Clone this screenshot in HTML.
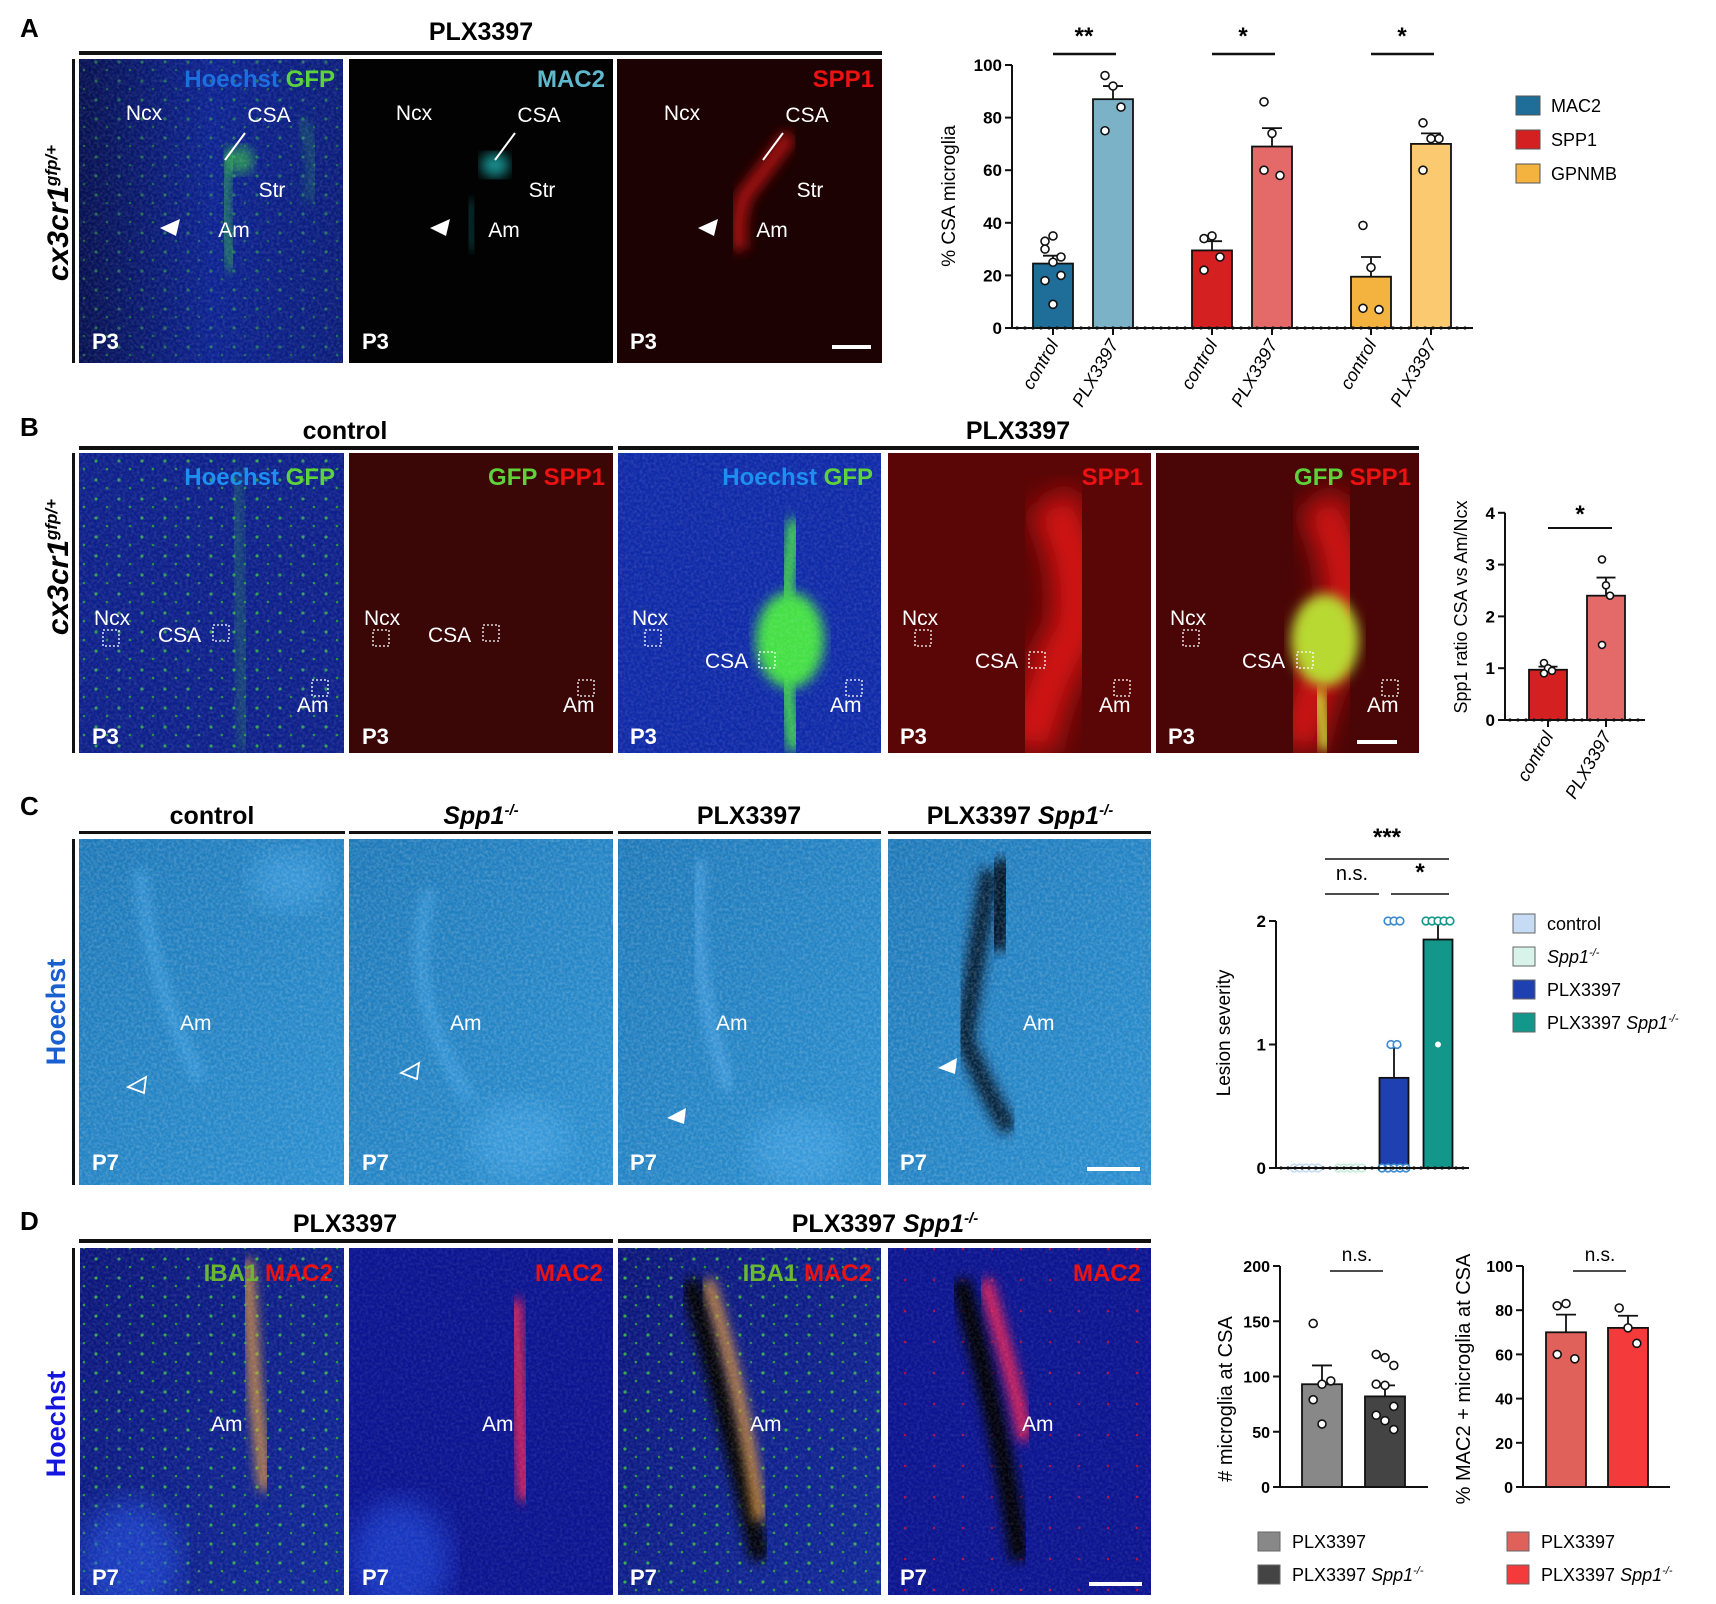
<!DOCTYPE html>
<html><head><meta charset="utf-8"><style>
body{margin:0;background:#fff}
svg{display:block;font-family:"Liberation Sans",Arial,sans-serif}
</style></head><body>
<svg id="fig" width="1716" height="1604" viewBox="0 0 1716 1604" xmlns="http://www.w3.org/2000/svg">
<defs>
<filter id="nz" x="0" y="0" width="100%" height="100%"><feTurbulence type="fractalNoise" baseFrequency="0.35" numOctaves="2" seed="3"/><feColorMatrix type="matrix" values="0 0 0 0 1  0 0 0 0 1  0 0 0 0 1  0 0 0 1.6 -0.55"/></filter>
<filter id="bl"><feGaussianBlur stdDeviation="6"/></filter>
<filter id="bl2"><feGaussianBlur stdDeviation="14"/></filter>
<pattern id="gdots" width="23" height="19" patternUnits="userSpaceOnUse"><circle cx="4" cy="5" r="1.6" fill="#3fd23f"/><circle cx="15" cy="13" r="1.3" fill="#2fb82f"/></pattern>
<pattern id="rdots" width="29" height="31" patternUnits="userSpaceOnUse"><circle cx="6" cy="9" r="1.3" fill="#e01030"/></pattern>
<linearGradient id="gA1" x1="0" x2="1"><stop offset="0" stop-color="#061050"/><stop offset="0.5" stop-color="#0c2290"/><stop offset="1" stop-color="#0a1c7a"/></linearGradient>
<linearGradient id="gC" x1="0" x2="1" y1="0" y2="1"><stop offset="0" stop-color="#1d78b8"/><stop offset="1" stop-color="#2a8fd0"/></linearGradient>
<linearGradient id="gD" x1="0" x2="1" y1="0" y2="1"><stop offset="0" stop-color="#0a1478"/><stop offset="1" stop-color="#10289a"/></linearGradient>
<clipPath id="cA1"><rect x="79" y="59" width="264" height="304"/></clipPath>
<clipPath id="cA2"><rect x="349" y="59" width="264" height="304"/></clipPath>
<clipPath id="cA3"><rect x="617" y="59" width="265" height="304"/></clipPath>
<clipPath id="cB1"><rect x="79" y="453" width="265" height="300"/></clipPath>
<clipPath id="cB3"><rect x="618" y="453" width="263" height="300"/></clipPath>
<clipPath id="cB4"><rect x="888" y="453" width="263" height="300"/></clipPath>
<clipPath id="cB5"><rect x="1156" y="453" width="263" height="300"/></clipPath>
<clipPath id="cC"><rect x="79" y="839" width="1072" height="346"/></clipPath>
<clipPath id="cD1"><rect x="80" y="1248" width="264" height="347"/></clipPath>
<clipPath id="cD2"><rect x="349" y="1248" width="264" height="347"/></clipPath>
<clipPath id="cD3"><rect x="618" y="1248" width="263" height="347"/></clipPath>
<clipPath id="cD4"><rect x="888" y="1248" width="263" height="347"/></clipPath>
</defs>

<text x="20" y="37" font-size="26" font-weight="bold">A</text>
<text x="20" y="436" font-size="26" font-weight="bold">B</text>
<text x="20" y="815" font-size="26" font-weight="bold">C</text>
<text x="20" y="1230" font-size="26" font-weight="bold">D</text>

<g font-size="25" font-weight="bold" text-anchor="middle">
<text x="481" y="40">PLX3397</text>
<rect x="79" y="51" width="803" height="4" fill="#111"/>
<text x="345" y="439">control</text><text x="1018" y="439">PLX3397</text>
<rect x="79" y="446" width="534" height="4" fill="#111"/><rect x="618" y="446" width="801" height="4" fill="#111"/>
<text x="212" y="824">control</text><text x="481" y="824"><tspan font-style="italic">Spp1</tspan><tspan font-size="15" dy="-9" font-style="italic">-/-</tspan></text>
<text x="749" y="824">PLX3397</text><text x="1020" y="824">PLX3397 <tspan font-style="italic">Spp1</tspan><tspan font-size="15" dy="-9" font-style="italic">-/-</tspan></text>
<rect x="79" y="831" width="266" height="3" fill="#111"/><rect x="349" y="831" width="264" height="3" fill="#111"/><rect x="618" y="831" width="263" height="3" fill="#111"/><rect x="888" y="831" width="263" height="3" fill="#111"/>
<text x="345" y="1232">PLX3397</text><text x="885" y="1232">PLX3397 <tspan font-style="italic">Spp1</tspan><tspan font-size="15" dy="-9" font-style="italic">-/-</tspan></text>
<rect x="79" y="1239" width="534" height="4" fill="#111"/><rect x="618" y="1239" width="533" height="4" fill="#111"/>
</g>
<g fill="#111">
<rect x="72" y="59" width="3" height="304"/><rect x="72" y="453" width="3" height="300"/><rect x="72" y="839" width="3" height="346"/><rect x="72" y="1248" width="3" height="347"/>
</g>
<text transform="translate(68,213) rotate(-90)" font-size="30" font-weight="bold" font-style="italic" text-anchor="middle">cx3cr1<tspan font-size="17" dy="-11">gfp/+</tspan></text>
<text transform="translate(68,567) rotate(-90)" font-size="30" font-weight="bold" font-style="italic" text-anchor="middle">cx3cr1<tspan font-size="17" dy="-11">gfp/+</tspan></text>
<text transform="translate(65,1012) rotate(-90)" font-size="27" font-weight="bold" fill="#1a5fd0" text-anchor="middle">Hoechst</text>
<text transform="translate(65,1424) rotate(-90)" font-size="27" font-weight="bold" fill="#1515e0" text-anchor="middle">Hoechst</text>

<!-- Panel A images -->
<g clip-path="url(#cA1)">
<rect x="79" y="59" width="264" height="304" fill="url(#gA1)"/>
<rect x="79" y="59" width="264" height="304" fill="url(#gdots)" opacity="0.45"/>
<path d="M232 150 Q222 190 226 230 Q230 250 232 270" stroke="#3ad23a" stroke-width="6" fill="none" filter="url(#bl)"/>
<ellipse cx="240" cy="160" rx="14" ry="14" fill="#3ad23a" opacity="0.6" filter="url(#bl)"/>
<path d="M300 120 Q320 150 310 200" stroke="#3ad23a" stroke-width="4" fill="none" opacity="0.7" filter="url(#bl)"/>
<rect x="79" y="59" width="264" height="304" filter="url(#nz)" opacity="0.15"/>
</g>
<g clip-path="url(#cA2)">
<rect x="349" y="59" width="264" height="304" fill="#020202"/>
<ellipse cx="495" cy="165" rx="14" ry="12" fill="#20c8c8" opacity="0.7" filter="url(#bl)"/>
<path d="M471 200 Q466 230 474 250" stroke="#20c8c8" stroke-width="4" fill="none" opacity="0.7" filter="url(#bl)"/>
</g>
<g clip-path="url(#cA3)">
<rect x="617" y="59" width="265" height="304" fill="#1c0202"/>
<path d="M790 135 Q765 170 745 195 Q735 220 740 250" stroke="#d01515" stroke-width="16" fill="none" opacity="0.75" filter="url(#bl)"/>
</g>
<g fill="#fff" font-size="21" text-anchor="middle">
<text x="144" y="120">Ncx</text><text x="269" y="122">CSA</text><text x="272" y="197">Str</text><text x="234" y="237">Am</text>
<text x="414" y="120">Ncx</text><text x="539" y="122">CSA</text><text x="542" y="197">Str</text><text x="504" y="237">Am</text>
<text x="682" y="120">Ncx</text><text x="807" y="122">CSA</text><text x="810" y="197">Str</text><text x="772" y="237">Am</text>
<path d="M245 133 L225 160 M515 133 L495 160 M783 133 L763 160" stroke="#fff" stroke-width="2"/>
<path d="M160 228 L180 219 L176 236Z M430 228 L450 219 L446 236Z M698 228 L718 219 L714 236Z"/>
<g font-weight="bold" font-size="22" text-anchor="start"><text x="92" y="349">P3</text><text x="362" y="349">P3</text><text x="630" y="349">P3</text></g>
<rect x="832" y="345" width="39" height="4"/>
</g>
<g font-size="24" font-weight="bold" text-anchor="end">
<text x="335" y="87"><tspan fill="#1d6fe0">Hoechst</tspan> <tspan fill="#5ed23a">GFP</tspan></text>
<text x="605" y="87" fill="#5fb8cc">MAC2</text>
<text x="874" y="87" fill="#ee1111">SPP1</text>
</g>

<!-- Panel B images -->
<g clip-path="url(#cB1)">
<rect x="79" y="453" width="265" height="300" fill="#0d1f8a"/><rect x="79" y="453" width="265" height="300" fill="url(#gdots)" opacity="0.7"/>
<path d="M235 470 L245 750" stroke="#3ad23a" stroke-width="6" opacity="0.5" filter="url(#bl)"/>
<rect x="79" y="453" width="265" height="300" filter="url(#nz)" opacity="0.15"/></g>
<g><rect x="349" y="453" width="264" height="300" fill="#3a0606"/></g>
<g clip-path="url(#cB3)">
<rect x="618" y="453" width="263" height="300" fill="#0f2aa8"/>
<ellipse cx="790" cy="640" rx="34" ry="48" fill="#44e044" filter="url(#bl)"/>
<path d="M795 520 L785 600 M785 680 L795 750" stroke="#44e044" stroke-width="14" filter="url(#bl)"/>
<rect x="618" y="453" width="263" height="300" filter="url(#nz)" opacity="0.15"/></g>
<g clip-path="url(#cB4)">
<rect x="888" y="453" width="263" height="300" fill="#5a0606"/>
<path d="M1050 500 Q1085 560 1075 630 Q1040 690 1030 750" stroke="#e81818" stroke-width="50" fill="none" filter="url(#bl2)" opacity="0.85"/></g>
<g clip-path="url(#cB5)">
<rect x="1156" y="453" width="263" height="300" fill="#4a0606"/>
<path d="M1318 500 Q1353 560 1343 630 Q1308 690 1298 750" stroke="#e81818" stroke-width="46" fill="none" filter="url(#bl2)" opacity="0.85"/>
<ellipse cx="1325" cy="640" rx="34" ry="46" fill="#b8d830" filter="url(#bl)"/>
<path d="M1318 690 L1326 750" stroke="#c8d830" stroke-width="14" filter="url(#bl)"/></g>
<g font-size="24" font-weight="bold" text-anchor="end">
<text x="335" y="485"><tspan fill="#1d8ff0">Hoechst</tspan> <tspan fill="#5ed23a">GFP</tspan></text>
<text x="605" y="485"><tspan fill="#5ed23a">GFP</tspan> <tspan fill="#ee1111">SPP1</tspan></text>
<text x="873" y="485"><tspan fill="#1d8ff0">Hoechst</tspan> <tspan fill="#5ed23a">GFP</tspan></text>
<text x="1143" y="485" fill="#ee1111">SPP1</text>
<text x="1411" y="485"><tspan fill="#5ed23a">GFP</tspan> <tspan fill="#ee1111">SPP1</tspan></text>
</g>
<g fill="#fff" font-size="21">
<text x="94" y="625">Ncx</text><text x="158" y="642">CSA</text><text x="297" y="712">Am</text>
<text x="364" y="625">Ncx</text><text x="428" y="642">CSA</text><text x="563" y="712">Am</text>
<text x="632" y="625">Ncx</text><text x="705" y="668">CSA</text><text x="830" y="712">Am</text>
<text x="902" y="625">Ncx</text><text x="975" y="668">CSA</text><text x="1099" y="712">Am</text>
<text x="1170" y="625">Ncx</text><text x="1242" y="668">CSA</text><text x="1367" y="712">Am</text>
<g font-weight="bold" font-size="22"><text x="92" y="744">P3</text><text x="362" y="744">P3</text><text x="630" y="744">P3</text><text x="900" y="744">P3</text><text x="1168" y="744">P3</text></g>
<g fill="none" stroke="#fff" stroke-width="1.3" stroke-dasharray="2,2">
<rect x="103" y="630" width="16" height="16"/><rect x="213" y="625" width="16" height="16"/><rect x="312" y="680" width="16" height="16"/>
<rect x="373" y="630" width="16" height="16"/><rect x="483" y="625" width="16" height="16"/><rect x="578" y="680" width="16" height="16"/>
<rect x="645" y="630" width="16" height="16"/><rect x="759" y="652" width="16" height="16"/><rect x="846" y="680" width="16" height="16"/>
<rect x="915" y="630" width="16" height="16"/><rect x="1029" y="652" width="16" height="16"/><rect x="1114" y="680" width="16" height="16"/>
<rect x="1183" y="630" width="16" height="16"/><rect x="1297" y="652" width="16" height="16"/><rect x="1382" y="680" width="16" height="16"/></g>
<rect x="1357" y="740" width="40" height="4"/>
</g>

<!-- Panel C images -->
<g clip-path="url(#cC)">
<rect x="79" y="839" width="265" height="346" fill="url(#gC)"/><rect x="349" y="839" width="264" height="346" fill="url(#gC)"/>
<rect x="618" y="839" width="263" height="346" fill="url(#gC)"/><rect x="888" y="839" width="263" height="346" fill="url(#gC)"/>
<path d="M140 870 Q150 980 200 1080 M430 890 Q400 990 470 1100" stroke="#4aa8e8" stroke-width="10" fill="none" filter="url(#bl)" opacity="0.7"/>
<ellipse cx="290" cy="880" rx="40" ry="30" fill="#4aa8e8" opacity="0.5" filter="url(#bl2)"/>
<ellipse cx="520" cy="1140" rx="50" ry="40" fill="#4aa8e8" opacity="0.5" filter="url(#bl2)"/>
<ellipse cx="800" cy="1150" rx="50" ry="40" fill="#4aa8e8" opacity="0.5" filter="url(#bl2)"/>
<path d="M990 870 Q975 960 965 1040 Q990 1100 1010 1130" stroke="#05162e" stroke-width="18" fill="none" filter="url(#bl)"/>
<path d="M1005 860 L995 950" stroke="#05162e" stroke-width="28" filter="url(#bl)"/>
<path d="M700 860 Q690 980 730 1090" stroke="#5cb0f0" stroke-width="8" fill="none" filter="url(#bl)" opacity="0.8"/>
<rect x="79" y="839" width="1072" height="346" filter="url(#nz)" opacity="0.25"/>
</g>
<g fill="#fff" font-size="21">
<text x="180" y="1030">Am</text><text x="450" y="1030">Am</text><text x="716" y="1030">Am</text><text x="1023" y="1030">Am</text>
<path d="M128 1087 L146 1077 L144 1093Z M401 1073 L419 1063 L417 1079Z" fill="none" stroke="#fff" stroke-width="1.8"/>
<path d="M667 1118 L686 1108 L684 1124Z M938 1068 L957 1058 L955 1074Z"/>
<g font-weight="bold" font-size="22"><text x="92" y="1170">P7</text><text x="362" y="1170">P7</text><text x="630" y="1170">P7</text><text x="900" y="1170">P7</text></g>
<rect x="1087" y="1167" width="53" height="4"/>
</g>

<!-- Panel D images -->
<g clip-path="url(#cD1)">
<rect x="80" y="1248" width="264" height="347" fill="url(#gD)"/><rect x="80" y="1248" width="264" height="347" fill="url(#gdots)" opacity="0.75"/>
<ellipse cx="130" cy="1560" rx="50" ry="60" fill="#2050e0" opacity="0.6" filter="url(#bl2)"/>
<path d="M247 1260 L255 1390 L265 1490" stroke="#f0a030" stroke-width="10" fill="none" filter="url(#bl)"/>
<rect x="80" y="1248" width="264" height="347" filter="url(#nz)" opacity="0.15"/></g>
<g clip-path="url(#cD2)">
<rect x="349" y="1248" width="264" height="347" fill="#0c1490"/>
<ellipse cx="400" cy="1560" rx="50" ry="60" fill="#2050e0" opacity="0.6" filter="url(#bl2)"/>
<path d="M515 1300 L520 1420 L525 1500" stroke="#ff2050" stroke-width="12" fill="none" filter="url(#bl)"/>
<rect x="349" y="1248" width="264" height="347" filter="url(#nz)" opacity="0.12"/></g>
<g clip-path="url(#cD3)">
<rect x="618" y="1248" width="263" height="347" fill="url(#gD)"/><rect x="618" y="1248" width="263" height="347" fill="url(#gdots)" opacity="0.75"/>
<path d="M690 1280 Q730 1420 760 1560" stroke="#000" stroke-width="20" fill="none" filter="url(#bl)"/>
<path d="M708 1280 Q745 1400 760 1520" stroke="#f0a030" stroke-width="10" fill="none" filter="url(#bl)"/>
<rect x="618" y="1248" width="263" height="347" filter="url(#nz)" opacity="0.15"/></g>
<g clip-path="url(#cD4)">
<rect x="888" y="1248" width="263" height="347" fill="#0c1490"/><rect x="888" y="1248" width="263" height="347" fill="url(#rdots)" opacity="0.7"/>
<path d="M960 1280 Q1000 1420 1020 1560" stroke="#000" stroke-width="20" fill="none" filter="url(#bl)"/>
<path d="M985 1280 Q1015 1380 1025 1440" stroke="#ff2050" stroke-width="12" fill="none" filter="url(#bl)"/>
<rect x="888" y="1248" width="263" height="347" filter="url(#nz)" opacity="0.12"/></g>
<g font-size="24" font-weight="bold" text-anchor="end">
<text x="333" y="1281"><tspan fill="#6ab830">IBA1</tspan> <tspan fill="#ee1111">MAC2</tspan></text>
<text x="603" y="1281" fill="#ee1111">MAC2</text>
<text x="872" y="1281"><tspan fill="#6ab830">IBA1</tspan> <tspan fill="#ee1111">MAC2</tspan></text>
<text x="1141" y="1281" fill="#ee1111">MAC2</text>
</g>
<g fill="#fff" font-size="21">
<text x="211" y="1431">Am</text><text x="482" y="1431">Am</text><text x="750" y="1431">Am</text><text x="1022" y="1431">Am</text>
<g font-weight="bold" font-size="22"><text x="92" y="1585">P7</text><text x="362" y="1585">P7</text><text x="630" y="1585">P7</text><text x="900" y="1585">P7</text></g>
<rect x="1089" y="1582" width="53" height="4"/>
</g>

<g id="charts"></g>
</svg>
<script>
// ---- Chart A data ----
const aCats = ['control','PLX3397','control','PLX3397','control','PLX3397'];
const aMeans = [24.5, 87, 29.5, 69, 19.5, 70];
const aSems = [3, 5, 3.5, 7, 7.5, 4];
const aPoints = [[33,35,27,30,25,20,18,9],[96,92,84,75],[34,35,27,22],[86,74,58,60],[39,23,7,7.5],[78,72,72,60]];
const aTicks = [0,20,40,60,80,100];
const aLegend = ['MAC2','SPP1','GPNMB'];
const aSig = ['**','*','*'];
// ---- Chart B data ----
const bCats = ['control','PLX3397'];
const bMeans = [0.97, 2.4];
const bSems = [0.06, 0.35];
const bPoints = [[1.1,1.0,0.95,0.9],[3.1,2.6,2.4,1.45]];
const bTicks = [0,1,2,3,4];
// ---- Chart C data ----
const cCats = ['control','Spp1-/-','PLX3397','PLX3397 Spp1-/-'];
const cMeans = [0, 0, 0.73, 1.85];
const cSems = [0, 0, 0.26, 0.15];
const cPoints = [[0,0,0,0,0],[0,0,0,0,0],[2,2,2,1,1,0,0,0,0,0],[2,2,2,2,2,1]];
const cTicks = [0,1,2];
// ---- Chart D1 data ----
const d1Cats = ['PLX3397','PLX3397 Spp1-/-'];
const d1Means = [93, 82];
const d1Sems = [17, 10];
const d1Points = [[148,93,96,79,57],[120,117,110,93,92,73,65,60,52]];
const d1Ticks = [0,50,100,150,200];
// ---- Chart D2 data ----
const d2Cats = ['PLX3397','PLX3397 Spp1-/-'];
const d2Means = [70, 72];
const d2Sems = [8, 5.5];
const d2Points = [[82,83,58,60],[81,72,65]];
const d2Ticks = [0,20,40,60,80,100];

const NS='http://www.w3.org/2000/svg';
const root=document.getElementById('charts');
function el(t,a,p){const e=document.createElementNS(NS,t);for(const k in a)e.setAttribute(k,a[k]);(p||root).appendChild(e);return e;}
function txt(s,a,p){const e=el('text',a,p);e.textContent=s;return e;}

function chart(o){
  const g=el('g',{});
  
  
  const y=v=>o.y0-(v-o.vmin)*o.k;
  const ax=el('line',{x1:o.ax,y1:y(o.ticks[0]),x2:o.ax,y2:y(o.ticks[o.ticks.length-1]),stroke:'#111','stroke-width':2},g);
  
  
  o.ticks.forEach(t=>{
    el('line',{x1:o.ax-7,x2:o.ax,y1:y(t),y2:y(t),stroke:'#111','stroke-width':2},g);
    const tl=txt(String(t),{x:o.ax-10,y:y(t)+6,'font-size':o.tfs||17,'font-weight':'bold','text-anchor':'end'},g);
    
    
  });
  const yt=txt(o.title,{transform:`translate(${o.titleX},${o.titleY}) rotate(-90)`,'font-size':o.titleFs||19,'text-anchor':'middle'},g);
  
  
  o.means.forEach((m,i)=>{
    const cx=o.cx(i),w=o.bw;
    const b=el('rect',{x:cx-w/2,y:y(m),width:w,height:Math.max(0,y(0)-y(m)),fill:o.colors[i],stroke:'#111','stroke-width':1.8},g);
    
    
    if(o.sems[i]>0){
      el('line',{x1:cx,x2:cx,y1:y(m),y2:y(m+o.sems[i]),stroke:'#111','stroke-width':1.8},g);
      el('line',{x1:cx-w/4,x2:cx+w/4,y1:y(m+o.sems[i]),y2:y(m+o.sems[i]),stroke:'#111','stroke-width':1.8},g);
    }
    const pts=o.points[i];
    pts.forEach((v,j)=>{
      let dx;
      if(o.stack){const same=pts.filter(q=>q===v).length;const idx=pts.slice(0,j).filter(q=>q===v).length;dx=(idx-(same-1)/2)*6;}
      else dx=((j%3)-1)*8*(o.jit||1);
      const p=el('circle',{cx:cx+dx,cy:y(v),r:o.r||4,fill:o.pfill?o.pfill[i]:'#fff',stroke:o.pstroke?o.pstroke[i]:'#111','stroke-width':1.6},g);
      
      
    });
  });
  el('line',{x1:o.ax,x2:o.axEnd,y1:y(0),y2:y(0),stroke:'#111','stroke-width':2},g);
  if(o.dots){for(let x=o.ax+5;x<o.axEnd;x+=o.dots)el('circle',{cx:x,cy:y(0),r:1.6,fill:'#111'},g);}
  if(o.xticks){o.means.forEach((m,i)=>{el('line',{x1:o.cx(i),x2:o.cx(i),y1:y(0),y2:y(0)+7,stroke:'#111','stroke-width':2},g);});}
  if(o.xlabels){o.xlabels.forEach((s,i)=>{
    const l=txt(s,{transform:`translate(${o.cx(i)+6},${y(0)+16}) rotate(-60)`,'font-size':18,'font-style':'italic','text-anchor':'end'},g);
    
    
  });}
  return {g,y};
}

const aColors=['#1f6e99','#7bb2c8','#d42020','#e46a6a','#f4b23e','#fbc970'];
const A=chart({name:'chart-a',ax:1012,axEnd:1473,y0:328,vmin:0,k:2.63,ticks:aTicks,title:'% CSA microglia',titleX:955,titleY:196,
  means:aMeans,sems:aSems,points:aPoints,colors:aColors,bw:40,cx:i=>1053+Math.floor(i/2)*159+(i%2)*60,dots:8,xticks:true,xlabels:aCats});
aSig.forEach((s,gi)=>{
  const x1=1053+gi*159;
  el('line',{x1:x1,x2:x1+63,y1:54,y2:54,stroke:'#111','stroke-width':2.5},A.g);
  txt(s,{x:x1+31,y:44,'font-size':24,'font-weight':'bold','text-anchor':'middle'},A.g);
});
aLegend.forEach((s,i)=>{
  const r=el('rect',{x:1516,y:96+i*34,width:24,height:19,fill:[aColors[0],aColors[2],aColors[4]][i],stroke:'#555'},A.g);
  
  
  const t=txt(s,{x:1551,y:112+i*34,'font-size':18},A.g);
  
  
});

const B=chart({name:'chart-b',ax:1505,axEnd:1645,y0:720,vmin:0,k:51.8,ticks:bTicks,title:'Spp1 ratio CSA vs Am/Ncx',titleX:1467,titleY:607,titleFs:18,
  means:bMeans,sems:bSems,points:bPoints,colors:['#d42020','#e46a6a'],bw:38,cx:i=>1548+i*58,dots:8,xticks:true,xlabels:bCats,jit:0.5,r:3.5});
el('line',{x1:1548,x2:1612,y1:528,y2:528,stroke:'#111','stroke-width':2},B.g);
txt('*',{x:1580,y:522,'font-size':24,'font-weight':'bold','text-anchor':'middle'},B.g);

const cColors=['#c6dcf4','#d8f4ea','#1e40b0','#12978a'];
const C=chart({name:'chart-c',ax:1276,axEnd:1469,y0:1168,vmin:0,k:123.5,ticks:cTicks,title:'Lesion severity',titleX:1230,titleY:1033,
  means:cMeans,sems:cSems,points:cPoints,colors:cColors,bw:29,cx:i=>1306+i*44,dots:7,stack:true,r:3.8,
  pstroke:['#c6dcf4','#c8eede','#3b8ad0','#12978a'],pfill:['#fff','#fff','#fff','#fff']});
[[1325,1449,859,'***',845],[1325,1379,894,'n.s.',880],[1391,1449,894,'*',880]].forEach(s=>{
  el('line',{x1:s[0],x2:s[1],y1:s[2],y2:s[2],stroke:'#111','stroke-width':1.5},C.g);
  txt(s[3],{x:(s[0]+s[1])/2,y:s[4],'font-size':s[3]==='n.s.'?20:24,'font-weight':s[3]==='n.s.'?'normal':'bold','text-anchor':'middle'},C.g);
});
cCats.forEach((s,i)=>{
  const r=el('rect',{x:1513,y:914+i*33,width:22,height:19,fill:cColors[i],stroke:'#666'},C.g);
  
  
  const t=el('text',{x:1547,y:930+i*33,'font-size':18},C.g);
  
  
  if(s.indexOf('Spp1')>=0){const base=s.replace('Spp1-/-','');if(base){const a=document.createElementNS(NS,'tspan');a.textContent=base;t.appendChild(a);}
    const b=document.createElementNS(NS,'tspan');b.setAttribute('font-style','italic');b.textContent='Spp1';t.appendChild(b);
    const c=document.createElementNS(NS,'tspan');c.setAttribute('font-style','italic');c.setAttribute('font-size','11');c.setAttribute('dy','-7');c.textContent='-/-';t.appendChild(c);}
  else t.textContent=s;
});

const D1=chart({name:'chart-d-count',ax:1280,axEnd:1428,y0:1487,vmin:0,k:1.105,ticks:d1Ticks,title:'# microglia at CSA',titleX:1232,titleY:1399,titleFs:20,tfs:16,
  means:d1Means,sems:d1Sems,points:d1Points,colors:['#888','#444'],bw:40,cx:i=>1322+i*63,jit:1.1});
el('line',{x1:1330,x2:1383,y1:1271,y2:1271,stroke:'#111','stroke-width':1.5},D1.g);
txt('n.s.',{x:1357,y:1261,'font-size':19,'text-anchor':'middle'},D1.g);
const D2=chart({name:'chart-d-mac2',ax:1523,axEnd:1670,y0:1487,vmin:0,k:2.21,ticks:d2Ticks,title:'% MAC2 + microglia at CSA',titleX:1470,titleY:1379,titleFs:20,tfs:16,
  means:d2Means,sems:d2Sems,points:d2Points,colors:['#e0605a','#f43a3a'],bw:40,cx:i=>1566+i*62,jit:1.1});
el('line',{x1:1573,x2:1626,y1:1271,y2:1271,stroke:'#111','stroke-width':1.5},D2.g);
txt('n.s.',{x:1600,y:1261,'font-size':19,'text-anchor':'middle'},D2.g);
function dLegend(x,cols,cats,grp){
  cats.forEach((s,i)=>{
    const r=el('rect',{x:x,y:1532+i*33,width:22,height:19,fill:cols[i],stroke:'#666'},grp);
    
    
    const t=el('text',{x:x+34,y:1548+i*33,'font-size':18},grp);
    
    
    if(s.indexOf('Spp1')>=0){const a=document.createElementNS(NS,'tspan');a.textContent='PLX3397 ';t.appendChild(a);
      const b=document.createElementNS(NS,'tspan');b.setAttribute('font-style','italic');b.textContent='Spp1';t.appendChild(b);
      const c=document.createElementNS(NS,'tspan');c.setAttribute('font-style','italic');c.setAttribute('font-size','11');c.setAttribute('dy','-7');c.textContent='-/-';t.appendChild(c);}
    else t.textContent=s;
  });
}
dLegend(1258,['#888','#444'],d1Cats,D1.g);
dLegend(1507,['#e0605a','#f43a3a'],d2Cats,D2.g);
</script>
</body></html>
